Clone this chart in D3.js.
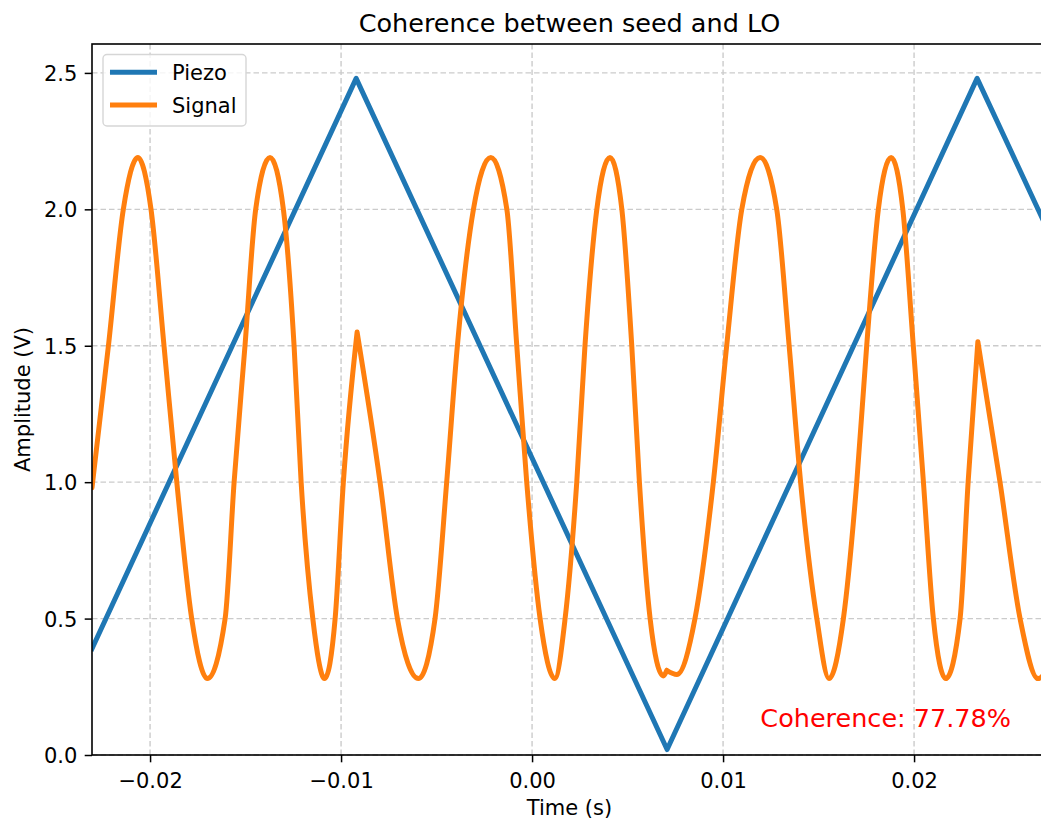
<!DOCTYPE html>
<html>
<head>
<meta charset="utf-8">
<script src="https://cdn.jsdelivr.net/npm/d3@7"></script>
<style>
  html, body { margin: 0; padding: 0; background: #ffffff; }
  svg { display: block; font-family: "DejaVu Sans", sans-serif; }
</style>
</head>
<body>
<svg id="chart" width="1041" height="825"></svg>
<script>
// ---------------- data ----------------
const chartTitle = "Coherence between seed and LO";
const xLabel = "Time (s)";
const yLabel = "Amplitude (V)";
const seriesNames = ["Piezo", "Signal"];
const seriesColors = ["#1f77b4", "#ff7f0e"];
const coherenceText = "Coherence: 77.78%";

const xDomain = [-0.02304, 0.02696];
const yDomain = [0, 2.606];
const xTicks = [-0.02, -0.01, 0.00, 0.01, 0.02];
const xTickLabels = ["\u22120.02", "\u22120.01", "0.00", "0.01", "0.02"];
const yTicks = [0.0, 0.5, 1.0, 1.5, 2.0, 2.5];
const yTickLabels = ["0.0", "0.5", "1.0", "1.5", "2.0", "2.5"];

// Piezo ramp (triangle) vertices
const piezoTime = [-0.02304, -0.00921, 0.00707, 0.02330, 0.02696];
const piezoVolt = [0.39, 2.48, 0.02, 2.48, 1.93];

// Signal samples (extrema and level crossings)
const signalTime = [
  -0.02304, -0.02218, -0.02140, -0.02064, -0.01995, -0.01927, -0.01860, -0.01782,
  -0.01700, -0.01607, -0.01560, -0.01503, -0.01447, -0.01372, -0.01302, -0.01246,
  -0.01209, -0.01148, -0.01086, -0.01031, -0.00988, -0.00916,
  -0.00796, -0.00705, -0.00595, -0.00508, -0.00447, -0.00391, -0.00307, -0.00216,
  -0.00132, -0.00080, -0.00028, 0.00042, 0.00119, 0.00173, 0.00234, 0.00277,
  0.00339, 0.00408, 0.00470, 0.00522, 0.00562, 0.00618, 0.00687, 0.00705,
  0.00758, 0.00853, 0.00949, 0.01019, 0.01098, 0.01194, 0.01281, 0.01346,
  0.01406, 0.01491, 0.01555, 0.01630, 0.01700, 0.01752, 0.01813, 0.01880,
  0.01941, 0.01996, 0.02049, 0.02101, 0.02166, 0.02241, 0.02283,
  0.02334, 0.02450, 0.02555, 0.02649, 0.02696
];
const signalVolt = [
  0.98, 1.50, 2.00, 2.19, 2.00, 1.50, 1.00, 0.50,
  0.28, 0.50, 1.00, 1.50, 2.00, 2.19, 2.00, 1.50,
  1.00, 0.50, 0.28, 0.50, 1.00, 1.55,
  1.00, 0.50, 0.28, 0.50, 1.00, 1.50, 2.00, 2.19,
  2.00, 1.50, 1.00, 0.50, 0.28, 0.50, 1.00, 1.50,
  2.00, 2.19, 2.00, 1.50, 1.00, 0.50, 0.29, 0.31,
  0.295, 0.50, 1.00, 1.50, 2.00, 2.19, 2.00, 1.50,
  1.00, 0.50, 0.28, 0.50, 1.00, 1.50, 2.00, 2.19,
  2.00, 1.50, 1.00, 0.50, 0.28, 0.50, 1.00,
  1.515, 1.00, 0.50, 0.28, 0.31
];
// the signal turns back where the piezo ramp reverses (sample indices)
const signalTurnIndex = [21, 45, 69];

// ---------------- layout ----------------
const svg = d3.select("#chart");
const plot = { left: 92, right: 1047, top: 44, bottom: 755 };
const tickFont = 21;

const x = d3.scaleLinear().domain(xDomain).range([plot.left, plot.right]);
const y = d3.scaleLinear().domain(yDomain).range([plot.bottom, plot.top]);

svg.append("defs").append("clipPath").attr("id", "clip")
  .append("rect")
  .attr("x", plot.left).attr("y", plot.top)
  .attr("width", plot.right - plot.left).attr("height", plot.bottom - plot.top);

// grid
const grid = svg.append("g").attr("class", "grid");
grid.selectAll("line.gx").data(xTicks).enter().append("line")
  .attr("x1", d => x(d)).attr("x2", d => x(d))
  .attr("y1", plot.top).attr("y2", plot.bottom)
  .attr("stroke", "#cbcbcb").attr("stroke-width", 1.4)
  .attr("stroke-dasharray", "5.5,3");
grid.selectAll("line.gy").data(yTicks).enter().append("line")
  .attr("y1", d => y(d)).attr("y2", d => y(d))
  .attr("x1", plot.left).attr("x2", plot.right)
  .attr("stroke", "#cbcbcb").attr("stroke-width", 1.4)
  .attr("stroke-dasharray", "5.5,3");

// series
const piezo = piezoTime.map((t, i) => ({ t, v: piezoVolt[i] }));
const signal = signalTime.map((t, i) => ({ t, v: signalVolt[i] }));

const lines = svg.append("g").attr("clip-path", "url(#clip)");
const linePiezo = d3.line().x(d => x(d.t)).y(d => y(d.v)).curve(d3.curveLinear);
const lineSignal = d3.line().x(d => x(d.t)).y(d => y(d.v)).curve(d3.curveMonotoneX);

lines.append("path").datum(piezo)
  .attr("d", linePiezo)
  .attr("fill", "none").attr("stroke", seriesColors[0])
  .attr("stroke-width", 5).attr("stroke-linejoin", "round").attr("stroke-linecap", "square");

// signal: one smooth piece per piezo sweep, joined at the turning points
const bounds = [0, ...signalTurnIndex, signal.length - 1];
let dSignal = "";
for (let k = 0; k < bounds.length - 1; k++) {
  dSignal += lineSignal(signal.slice(bounds[k], bounds[k + 1] + 1));
}
lines.append("path")
  .attr("d", dSignal)
  .attr("fill", "none").attr("stroke", seriesColors[1])
  .attr("stroke-width", 5).attr("stroke-linejoin", "round").attr("stroke-linecap", "round");

// axes
const xAxis = d3.axisBottom(x).tickValues(xTicks)
  .tickFormat((d, i) => xTickLabels[i]).tickSize(7.3).tickPadding(7.3);
const yAxis = d3.axisLeft(y).tickValues(yTicks)
  .tickFormat((d, i) => yTickLabels[i]).tickSize(7.3).tickPadding(7.3);

const gx = svg.append("g").attr("transform", `translate(0,${plot.bottom})`).call(xAxis);
const gy = svg.append("g").attr("transform", `translate(${plot.left},0)`).call(yAxis);
[gx, gy].forEach(g => {
  g.select(".domain").remove();
  g.selectAll(".tick line").attr("stroke", "#000").attr("stroke-width", 1.5);
  g.selectAll(".tick text").attr("fill", "#000")
    .style("font-family", "'DejaVu Sans', sans-serif").style("font-size", tickFont + "px");
});
gx.selectAll(".tick text").attr("dy", null).attr("y", 32.5);
gy.selectAll(".tick text").attr("dy", "0.36em");

// spines
svg.append("rect")
  .attr("x", plot.left).attr("y", plot.top)
  .attr("width", plot.right - plot.left).attr("height", plot.bottom - plot.top)
  .attr("fill", "none").attr("stroke", "#000").attr("stroke-width", 1.6);

// title & labels
svg.append("text").attr("x", (plot.left + plot.right) / 2).attr("y", 32)
  .attr("text-anchor", "middle").style("font-size", "25.5px").attr("fill", "#000")
  .text(chartTitle);
svg.append("text").attr("x", (plot.left + plot.right) / 2).attr("y", 815)
  .attr("text-anchor", "middle").style("font-size", tickFont + "px").attr("fill", "#000")
  .text(xLabel);
svg.append("text")
  .attr("transform", `translate(30,${(plot.top + plot.bottom) / 2}) rotate(-90)`)
  .attr("text-anchor", "middle").style("font-size", tickFont + "px").attr("fill", "#000")
  .text(yLabel);

// coherence annotation
svg.append("text").attr("x", 1011).attr("y", 727)
  .attr("text-anchor", "end").style("font-size", "25.5px").attr("fill", "red")
  .text(coherenceText);

// legend
const legend = svg.append("g");
legend.append("rect")
  .attr("x", 103).attr("y", 54.5).attr("width", 143).attr("height", 71.5)
  .attr("rx", 4).attr("ry", 4)
  .attr("fill", "#ffffff").attr("fill-opacity", 0.8)
  .attr("stroke", "#d6d6d6").attr("stroke-width", 1.4);
const legendY = [72.3, 105];
seriesNames.forEach((name, i) => {
  legend.append("line")
    .attr("x1", 110).attr("x2", 157).attr("y1", legendY[i]).attr("y2", legendY[i])
    .attr("stroke", seriesColors[i]).attr("stroke-width", 5);
  legend.append("text")
    .attr("x", 172).attr("y", legendY[i] + 7.7)
    .style("font-size", tickFont + "px").attr("fill", "#000")
    .text(name);
});
</script>
</body>
</html>
